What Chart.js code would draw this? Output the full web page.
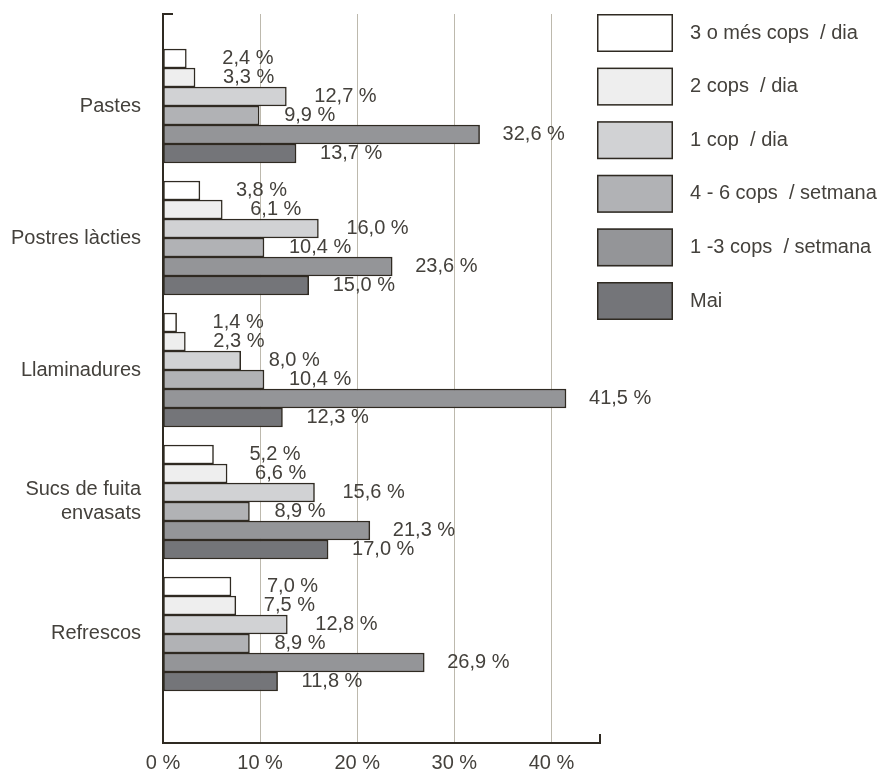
<!DOCTYPE html>
<html>
<head>
<meta charset="utf-8">
<script src="https://cdn.jsdelivr.net/npm/chart.js@4"></script>
<style>
  body { margin: 0; background: #fff; }
  #wrap { width: 886px; height: 774px; }
</style>
</head>
<body>
<div id="wrap"><canvas id="myChart" width="886" height="774"></canvas></div>
<script>
// categories (y axis), "\n" breaks a label on two lines
const categories = ['Pastes', 'Postres làcties', 'Llaminadures', 'Sucs de fuita\nenvasats', 'Refrescos'];

// series values, in %
const tresOMesDia = [2.4, 3.8, 1.4, 5.2, 7.0];
const dosDia = [3.3, 6.1, 2.3, 6.6, 7.5];
const unDia = [12.7, 16.0, 8.0, 15.6, 12.8];
const quatreSisSetmana = [9.9, 10.4, 10.4, 8.9, 8.9];
const unTresSetmana = [32.6, 23.6, 41.5, 21.3, 26.9];
const mai = [13.7, 15.0, 12.3, 17.0, 11.8];

const seriesNames = ['3 o més cops  / dia', '2 cops  / dia', '1 cop  / dia',
    '4 - 6 cops  / setmana', '1 -3 cops  / setmana', 'Mai'];

// x axis ticks
const xTicks = [0, 10, 20, 30, 40];

const FONT = '"Liberation Sans", Arial, sans-serif';
const TEXT = '#44413c';
const EDGE = '#2f2a22';

document.addEventListener("DOMContentLoaded", () => {
    const canvas = document.getElementById('myChart');
    const ctx = canvas.getContext('2d');

    const fills = ['#ffffff', '#eeeeee', '#d1d2d4', '#b1b2b5', '#949598', '#747579'];
    const labelGap = [36, 28, 28, 25, 23, 24]; // gap between bar end and its label

    const allSeries = [tresOMesDia, dosDia, unDia, quatreSisSetmana, unTresSetmana, mai];
    const datasets = allSeries.map((vals, i) => ({
        label: seriesNames[i],
        data: vals.map((v, k) => ({ x: v, y: k })),
        backgroundColor: fills[i],
        borderColor: EDGE,
        borderWidth: 1.5,
        borderSkipped: false,
        barThickness: 19,
        labelGap: labelGap[i]
    }));

    // value labels next to each bar
    const valueLabels = {
        id: 'valueLabels',
        afterDatasetsDraw(chart) {
            const c = chart.ctx;
            c.save();
            c.font = '20px ' + FONT;
            c.fillStyle = TEXT;
            c.textAlign = 'left';
            c.textBaseline = 'middle';
            chart.data.datasets.forEach((ds, i) => {
                chart.getDatasetMeta(i).data.forEach((bar, k) => {
                    const txt = ds.data[k].x.toFixed(1).replace('.', ',') + ' %';
                    c.fillText(txt, bar.x + ds.labelGap, bar.y);
                });
            });
            c.restore();
        }
    };

    // legend boxes on the right side
    const sideLegend = {
        id: 'sideLegend',
        afterDraw(chart) {
            const c = chart.ctx;
            const left = chart.chartArea.right - 3;
            const top = chart.chartArea.top;
            c.save();
            c.font = '20px ' + FONT;
            c.textBaseline = 'middle';
            c.textAlign = 'left';
            chart.data.datasets.forEach((ds, i) => {
                const y = top + i * 53.6;
                c.fillStyle = ds.backgroundColor;
                c.fillRect(left, y, 76, 38);
                c.lineWidth = 1.5;
                c.strokeStyle = EDGE;
                c.strokeRect(left + 0.75, y + 0.75, 74.5, 36.5);
                c.fillStyle = TEXT;
                c.fillText(ds.label, left + 93, y + 19);
            });
            c.restore();
        }
    };

    // small end ticks of the axes
    const axisEnds = {
        id: 'axisEnds',
        afterDraw(chart) {
            const a = chart.chartArea;
            const c = chart.ctx;
            c.save();
            c.strokeStyle = EDGE;
            c.lineWidth = 2;
            c.beginPath();
            c.moveTo(a.left, a.top);
            c.lineTo(a.left + 10, a.top);
            c.moveTo(a.right, a.bottom);
            c.lineTo(a.right, a.bottom - 9);
            c.stroke();
            c.restore();
        }
    };

    new Chart(ctx, {
        type: 'bar',
        data: { datasets: datasets },
        plugins: [valueLabels, sideLegend, axisEnds],
        options: {
            indexAxis: 'y',
            responsive: false,
            animation: false,
            layout: { padding: { top: 14, right: 286, bottom: 0, left: 0 } },
            plugins: {
                legend: { display: false },
                tooltip: { enabled: false }
            },
            scales: {
                x: {
                    type: 'linear',
                    min: 0,
                    max: 45,
                    grid: {
                        color: '#bdb9ad',
                        lineWidth: 1,
                        drawTicks: false
                    },
                    border: { color: EDGE, width: 2 },
                    afterBuildTicks: (scale) => {
                        scale.ticks = xTicks.map(v => ({ value: v }));
                    },
                    ticks: {
                        padding: 8,
                        color: TEXT,
                        font: { size: 20, family: FONT },
                        callback: (v) => v + ' %'
                    },
                    afterFit: (scale) => { scale.height = 31; }
                },
                y: {
                    type: 'linear',
                    reverse: true,
                    bounds: 'data',
                    offset: false,
                    min: -0.697,
                    max: 4.826,
                    grid: { display: false, drawTicks: false, offset: false },
                    border: { color: EDGE, width: 2 },
                    afterBuildTicks: (scale) => {
                        scale.ticks = categories.map((_, i) => ({ value: i }));
                    },
                    ticks: {
                        autoSkip: false,
                        padding: 22,
                        color: TEXT,
                        font: { size: 20, family: FONT },
                        callback: (v) => {
                            const name = categories[Math.round(v)];
                            return name ? name.split('\n') : '';
                        }
                    },
                    afterFit: (scale) => {
                        scale.width = 163;
                        scale.paddingTop = 0;
                        scale.paddingBottom = 0;
                    }
                }
            }
        }
    });
});
</script>
</body>
</html>
